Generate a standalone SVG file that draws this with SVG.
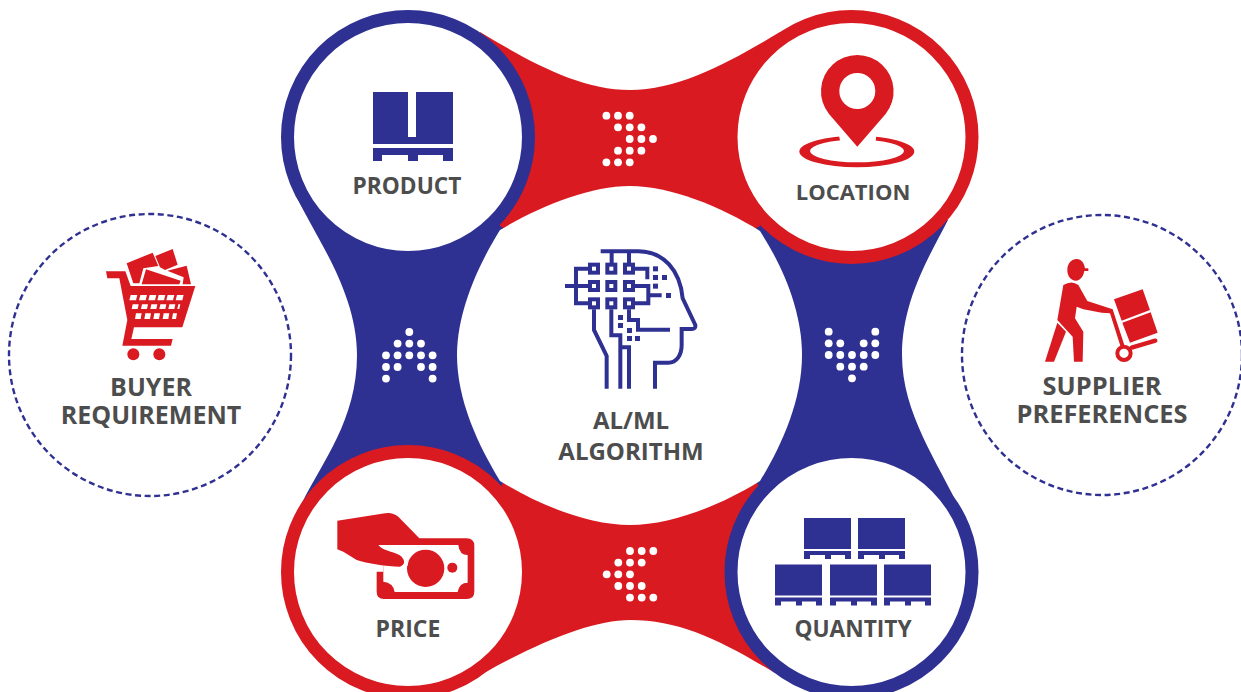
<svg xmlns="http://www.w3.org/2000/svg" width="1241" height="692" viewBox="0 0 1241 692">
<style>
.b{fill:#2E3192}.r{fill:#D91A21}.w{fill:#fff}
.lbl{font-family:"Open Sans","Noto Sans","Liberation Sans",sans-serif;font-weight:700;fill:#4D4D4D;text-anchor:middle}
.ring{fill:#fff;stroke-width:13}
.dash{fill:none;stroke:#2E3192;stroke-width:2.4;stroke-dasharray:6 3.6}
.ln{fill:none;stroke:#2E3192;stroke-width:12}
</style>
<defs>
<g id="chev" fill="#fff">
<circle cx="-23.3" cy="-23.3" r="3.9"/><circle cx="-11.7" cy="-23.3" r="3.9"/><circle cx="0" cy="-23.3" r="3.9"/>
<circle cx="-11.7" cy="-11.7" r="3.9"/><circle cx="0" cy="-11.7" r="3.9"/><circle cx="11.7" cy="-11.7" r="3.9"/>
<circle cx="0" cy="0" r="3.9"/><circle cx="11.7" cy="0" r="3.9"/><circle cx="23.3" cy="0" r="3.9"/>
<circle cx="-11.7" cy="11.7" r="3.9"/><circle cx="0" cy="11.7" r="3.9"/><circle cx="11.7" cy="11.7" r="3.9"/>
<circle cx="-23.3" cy="23.3" r="3.9"/><circle cx="-11.7" cy="23.3" r="3.9"/><circle cx="0" cy="23.3" r="3.9"/>
</g>
<g id="pal">
<rect class="b" x="0" y="0" width="47" height="31"/>
<path class="b" d="M0,33H47V41H41V37H27V41H21V37H6V41H0Z"/>
</g>
</defs>
<g id="connectors">
<path id="band-left" class="b" d="M297,197C312,232 357,290 357,355C357,420 322,462 302,503L420,560L560,480V240L420,150Z"/>
<path id="band-right" class="b" d="M948,220C930,255 902,300 902,355C902,415 940,465 962,514L860,560L700,480V240L850,150Z"/>
<path id="band-top" class="r" d="M480,32C530,62 580,90 630,90C680,90 730,62 780,32L760,226L630,300L500,226Z"/>
<path id="band-bottom" class="r" d="M502,484L630,400L758,484L775,673C720,640 680,620 630,620C590,620 530,645 460,687Z"/>
<use href="#chev" transform="translate(629.7 139)"/>
<use href="#chev" transform="translate(409.3 355.3) rotate(-90)"/>
<use href="#chev" transform="translate(852 355) rotate(90)"/>
<use href="#chev" transform="translate(630 574.3) rotate(180)"/>
</g>
<g id="node-center">
<path class="w" d="M500,230C540,206 590,186 630,186C670,186 720,206 760,231C782,265 802,310 802,355C802,400 782,445 760,481C720,506 670,525 630,525C590,525 540,506 500,481C478,445 457,400 457,355C457,310 480,262 500,230Z"/>
<g transform="translate(540 230) scale(.3333)">
<path class="ln" d="M182,64H295C370,64 420,120 428,205L466,285Q468,297 455,297H425V345C425,375 410,398 385,398H345V476"/>
<path class="ln" d="M215,64V100M267,64V100M146,116H108V220H146M75,168H146M284,116H322V148M284,168H325V220H284M325,196H365M162,238V300L200,378V476M214,238V316H241V476M267,238V270H294V299H390M241,352H267V476"/>
<g class="ln"><rect x="150" y="104" width="24" height="24"/><rect x="202" y="104" width="24" height="24"/><rect x="255" y="104" width="24" height="24"/><rect x="150" y="156" width="24" height="24"/><rect x="202" y="156" width="24" height="24"/><rect x="255" y="156" width="24" height="24"/><rect x="150" y="208" width="24" height="24"/><rect x="202" y="208" width="24" height="24"/><rect x="255" y="208" width="24" height="24"/></g>
<g class="b"><rect x="339" y="109" width="15" height="15"/><rect x="339" y="135" width="15" height="15"/><rect x="366" y="135" width="15" height="15"/><rect x="339" y="161" width="15" height="15"/><rect x="378" y="189" width="15" height="15"/><rect x="234" y="255" width="15" height="15"/><rect x="234" y="279" width="15" height="15"/><rect x="261" y="294" width="15" height="15"/><rect x="261" y="318" width="15" height="15"/><rect x="285" y="318" width="15" height="15"/></g>
</g>
<text class="lbl" x="631" y="429" font-size="24">AL/ML</text>
<text class="lbl" x="631" y="460" font-size="24">ALGORITHM</text>
</g>
<g id="node-product">
<circle class="ring" cx="408" cy="137" r="120.5" stroke="#2E3192"/>
<path class="b" d="M373,92H408V137H416V92H453V144H373ZM373,148H453V161H443V155H418V161H408V155H382V161H373Z"/>
<text class="lbl" x="407" y="194" font-size="22.7">PRODUCT</text>
</g>
<g id="node-location">
<circle class="ring" cx="851.5" cy="137" r="120.5" stroke="#D91A21"/>
<path class="r" fill-rule="evenodd" d="M799.3,151.5A57.5,15.7 0 1 1 914.3,151.5A57.5,15.7 0 1 1 799.3,151.5ZM810,151A47,11.3 0 1 0 904,151A47,11.3 0 1 0 810,151Z"/>
<path class="w" d="M838,130H877L875,146H841Z"/>
<path class="r" d="M857.3,146.7L829,114A36.3,36.3 0 1 1 885.6,114Z"/>
<circle class="w" cx="857.3" cy="91" r="18"/>
<text class="lbl" x="853" y="200" font-size="22">LOCATION</text>
</g>
<g id="node-price">
<circle class="ring" cx="408" cy="572" r="120.5" stroke="#D91A21"/>
<g transform="translate(320 500) scale(.3333)">
<path class="r" d="M175,115H440Q463,115 463,138V275Q463,297 440,297H192Q170,297 170,275V215H190V115Z"/>
<path class="w" d="M175,135H415Q418,165 443,165V248Q418,248 413,276H224Q220,248 190,245V200Z"/>
<circle class="r" cx="317" cy="205" r="56"/>
<circle class="r" cx="397" cy="203" r="15"/>
<path fill="none" stroke="#fff" stroke-width="18" d="M210,155C235,160 262,178 255,192C248,205 225,203 200,200"/>
<path class="r" d="M52,62L195,40Q215,35 235,50L298,115L300,135H175C190,155 230,155 245,170Q262,190 240,200C200,200 140,190 110,180L70,155L52,148Z"/>
</g>
<text class="lbl" x="408" y="637" font-size="23">PRICE</text>
</g>
<g id="node-quantity">
<circle class="ring" cx="851.5" cy="572" r="120.5" stroke="#2E3192"/>
<use href="#pal" transform="translate(804 518)"/>
<use href="#pal" transform="translate(858 518)"/>
<use href="#pal" transform="translate(775 564.5)"/>
<use href="#pal" transform="translate(830 564.5)"/>
<use href="#pal" transform="translate(884 564.5)"/>
<text class="lbl" x="853" y="637" font-size="22.7">QUANTITY</text>
</g>
<g id="node-buyer">
<circle class="dash" cx="150" cy="355" r="141"/>
<g transform="translate(90 240) scale(.3333)">
<path class="r" fill-rule="evenodd" d="M48,94H106L122,138H316L277,262H132L124,297H248L243,317H97L112,240L88,115H52ZM122,165L118,181H138L142,165ZM151,165L147,181H167L171,165ZM179,165L175,181H195L199,165ZM206,165L202,181H222L226,165ZM233,165L229,181H249L253,165ZM261,165L257,181H277L281,165ZM128,193L125,207H143L146,193ZM156,193L153,207H171L174,193ZM184,193L181,207H199L202,193ZM211,193L208,207H226L229,193ZM238,193L235,207H253L256,193ZM265,193L262,207H268L271,193ZM138,220L135,237H152L155,220ZM166,220L163,237H180L183,220ZM193,220L190,237H207L210,220ZM221,220L218,237H235L238,220ZM249,220L246,237H258L261,220Z"/>
<path class="r" d="M110,70L188,38L205,78L160,85L148,130H130Z"/>
<path class="r" d="M196,48L248,27L263,74L225,90L210,82Z"/>
<path class="r" d="M168,88L272,122L268,133H155Z"/>
<path class="r" d="M232,92L290,77L303,133H278L281,112Z"/>
<circle class="r" cx="130" cy="343" r="18"/><circle class="r" cx="208" cy="343" r="18"/>
</g>
<text class="lbl" x="151" y="396" font-size="25">BUYER</text>
<text class="lbl" x="151" y="424" font-size="25">REQUIREMENT</text>
</g>
<g id="node-supplier">
<circle class="dash" cx="1102" cy="355" r="140"/>
<g transform="translate(1030 250) scale(.3333)">
<path class="r" d="M112,60C112,40 125,27 140,27C155,27 163,40 165,55H175V63H163C160,80 150,92 138,92C122,92 112,78 112,60Z"/>
<path class="r" d="M100,105Q125,90 145,105L172,153L225,170L248,178L283,285L272,290L240,190L215,188L160,178L140,170L135,205L160,245L158,335H132L128,260L82,210Z"/>
<path class="r" d="M82,218L108,245L72,335H45Z"/>
<path class="r" d="M252,148L338,118L360,180L275,212ZM277,218L362,187L383,248L300,278Z"/>
<circle cx="282" cy="310" r="20" fill="#fff" stroke="#D91A21" stroke-width="12"/>
<path d="M305,293L376,272" stroke="#D91A21" stroke-width="13" stroke-linecap="round" fill="none"/>
</g>
<text class="lbl" x="1102" y="395" font-size="25.4">SUPPLIER</text>
<text class="lbl" x="1102" y="423" font-size="25.4">PREFERENCES</text>
</g>
</svg>
